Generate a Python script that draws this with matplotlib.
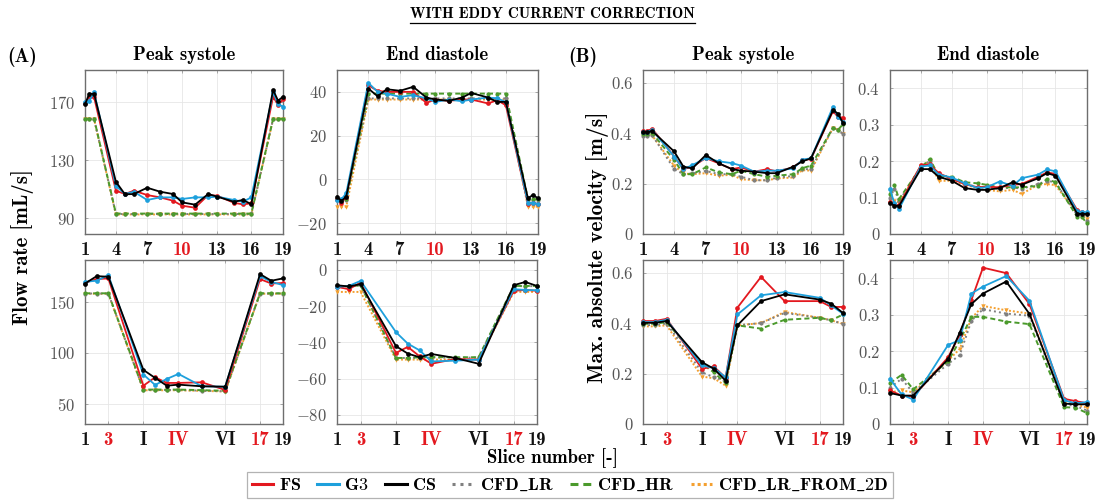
import matplotlib
matplotlib.use("Agg")
import matplotlib.pyplot as plt
from matplotlib.lines import Line2D
from matplotlib.ticker import FixedLocator, FixedFormatter

plt.rcParams['mathtext.fontset'] = 'cm'
plt.rcParams['font.family'] = ['cmr10', 'DejaVu Serif']
plt.rcParams['axes.unicode_minus'] = False

# ---------------------------------------------------------------- positions
# axial position of every slice, normalised to the segment length
z_full = [0.0, 0.022, 0.046, 0.156, 0.202, 0.247, 0.314, 0.379, 0.445, 0.490,
          0.556, 0.622, 0.668, 0.752, 0.797, 0.840, 0.950, 0.975, 1.0]
# slices 1-3, cut planes I-VI, slices 17-19
z_cut = [0.0, 0.059, 0.118, 0.295, 0.354, 0.413, 0.472, 0.590, 0.708, 0.884, 0.941, 1.0]

full_tick_idx = [0, 3, 6, 9, 12, 15, 18]
full_tick_lab = ['1', '4', '7', '10', '13', '16', '19']
full_tick_red = ['10']
cut_tick_idx = [0, 2, 3, 6, 8, 9, 11]
cut_tick_lab = ['1', '3', 'I', 'IV', 'VI', '17', '19']
cut_tick_red = ['3', 'IV', '17']

series_names = ['FS', 'G3', 'CS', 'CFD_LR', 'CFD_HR', 'CFD_LR_FROM_2D']

# ---------------------------------------------------------------- flow rate, peak systole, all slices
q_sys_full_FS = [169.3, 173.0, 173.0, 109.0, 106.7, 109.0, 106.0, 104.4, 102.1, 98.7,
                 97.3, 106.0, 105.5, 100.7, 99.6, 100.3, 173.4, 167.7, 171.5]
q_sys_full_G3 = [169.5, 170.7, 176.4, 112.2, 106.7, 108.3, 102.6, 104.4, 104.4, 103.3,
                 104.4, 104.4, 104.9, 102.6, 101.4, 104.4, 176.4, 168.4, 166.6]
q_sys_full_CS = [168.2, 175.5, 175.3, 115.1, 106.5, 106.7, 111.0, 108.3, 106.7, 101.0,
                 99.4, 106.7, 104.9, 101.4, 102.6, 99.8, 178.0, 170.7, 173.4]
q_sys_full_LR = [158.1, 158.1, 158.1, 93.0, 93.0, 93.0, 93.0, 93.0, 93.0, 93.0,
                 93.0, 93.0, 93.0, 93.0, 93.0, 93.0, 158.1, 158.1, 158.1]
q_sys_full_HR = [158.3, 158.3, 158.3, 93.3, 93.3, 93.3, 93.3, 93.3, 93.3, 93.3,
                 93.3, 93.3, 93.3, 93.3, 93.3, 93.3, 158.3, 158.3, 158.3]
q_sys_full_2D = [157.9, 157.9, 157.9, 92.7, 92.7, 92.7, 92.7, 92.7, 92.7, 92.7,
                 92.7, 92.7, 92.7, 92.7, 92.7, 92.7, 157.9, 157.9, 157.9]

# ---------------------------------------------------------------- flow rate, end diastole, all slices
q_dia_full_FS = [-9.1, -10.6, -7.9, 43.0, 40.5, 40.0, 40.0, 40.0, 35.0, 36.5,
                 35.9, 36.5, 36.5, 34.7, 36.2, 33.9, -11.3, -11.0, -11.2]
q_dia_full_G3 = [-9.4, -9.1, -6.4, 44.1, 40.0, 39.2, 37.7, 38.5, 37.0, 35.4,
                 36.5, 35.7, 36.5, 37.4, 37.0, 35.4, -11.0, -10.6, -11.3]
q_dia_full_CS = [-7.9, -9.9, -7.9, 41.5, 38.0, 41.2, 40.5, 42.3, 37.4, 36.5,
                 35.9, 37.4, 39.5, 37.4, 35.4, 35.4, -8.7, -7.1, -8.7]
q_dia_full_LR = [-9.3, -9.3, -9.3, 37.0, 37.0, 37.0, 37.0, 37.0, 37.0, 37.0,
                 37.0, 37.0, 37.0, 37.0, 37.0, 37.0, -9.3, -9.3, -9.3]
q_dia_full_HR = [-9.1, -9.4, -9.1, 39.2, 39.2, 39.2, 39.2, 39.2, 39.2, 39.2,
                 39.2, 39.2, 39.2, 39.2, 39.2, 39.2, -9.1, -9.1, -9.1]
q_dia_full_2D = [-12.5, -12.5, -12.5, 36.5, 36.5, 36.5, 36.5, 36.5, 36.5, 36.5,
                 36.5, 36.5, 36.5, 36.5, 36.5, 36.5, -12.5, -12.5, -12.5]

# ---------------------------------------------------------------- max velocity, peak systole, all slices
v_sys_full_FS = [0.408, 0.408, 0.417, 0.307, 0.257, 0.267, 0.301, 0.280, 0.257, 0.264,
                 0.247, 0.257, 0.248, 0.264, 0.292, 0.298, 0.487, 0.464, 0.461]
v_sys_full_G3 = [0.404, 0.404, 0.413, 0.307, 0.257, 0.273, 0.301, 0.288, 0.281, 0.271,
                 0.247, 0.251, 0.251, 0.260, 0.295, 0.300, 0.504, 0.464, 0.444]
v_sys_full_CS = [0.404, 0.404, 0.408, 0.327, 0.267, 0.260, 0.313, 0.280, 0.257, 0.251,
                 0.247, 0.241, 0.241, 0.267, 0.288, 0.300, 0.491, 0.477, 0.440]
v_sys_full_LR = [0.390, 0.390, 0.392, 0.257, 0.237, 0.240, 0.250, 0.237, 0.237, 0.227,
                 0.213, 0.213, 0.223, 0.230, 0.257, 0.257, 0.421, 0.413, 0.397]
v_sys_full_HR = [0.395, 0.395, 0.400, 0.293, 0.237, 0.237, 0.264, 0.244, 0.237, 0.251,
                 0.237, 0.227, 0.231, 0.237, 0.261, 0.271, 0.421, 0.413, 0.435]
v_sys_full_2D = [0.387, 0.387, 0.390, 0.270, 0.240, 0.237, 0.241, 0.231, 0.235, 0.217,
                 0.213, 0.213, 0.220, 0.224, 0.253, 0.251, 0.421, 0.413, 0.397]

# ---------------------------------------------------------------- max velocity, end diastole, all slices
v_dia_full_FS = [0.088, 0.081, 0.079, 0.188, 0.191, 0.167, 0.151, 0.137, 0.128, 0.130,
                 0.128, 0.135, 0.137, 0.157, 0.169, 0.165, 0.066, 0.059, 0.057]
v_dia_full_G3 = [0.124, 0.084, 0.069, 0.185, 0.188, 0.163, 0.155, 0.139, 0.126, 0.128,
                 0.144, 0.132, 0.153, 0.163, 0.177, 0.172, 0.062, 0.059, 0.059]
v_dia_full_CS = [0.084, 0.078, 0.077, 0.178, 0.178, 0.157, 0.146, 0.126, 0.121, 0.121,
                 0.126, 0.142, 0.135, 0.153, 0.167, 0.160, 0.056, 0.055, 0.055]
v_dia_full_LR = [0.100, 0.124, 0.090, 0.184, 0.200, 0.156, 0.153, 0.139, 0.128, 0.128,
                 0.124, 0.128, 0.124, 0.137, 0.146, 0.142, 0.052, 0.050, 0.037]
v_dia_full_HR = [0.110, 0.135, 0.096, 0.182, 0.206, 0.160, 0.157, 0.142, 0.139, 0.135,
                 0.128, 0.128, 0.128, 0.132, 0.151, 0.142, 0.047, 0.046, 0.029]
v_dia_full_2D = [0.084, 0.091, 0.086, 0.186, 0.200, 0.146, 0.146, 0.135, 0.126, 0.121,
                 0.117, 0.121, 0.110, 0.135, 0.137, 0.134, 0.056, 0.055, 0.041]

# ---------------------------------------------------------------- flow rate, peak systole, cut planes
q_sys_cut_FS = [168.7, 172.3, 173.0, 68.0, 76.2, 70.7, 70.7, 71.3, 63.8, 172.3, 168.0, 168.5]
q_sys_cut_G3 = [169.7, 170.7, 176.2, 78.9, 68.7, 74.6, 79.5, 67.4, 67.0, 175.2, 169.7, 166.4]
q_sys_cut_CS = [168.0, 175.2, 174.6, 83.4, 75.6, 68.0, 69.0, 67.4, 67.0, 177.2, 170.7, 173.0]
q_sys_cut_LR = [158.2, 158.2, 158.2, 63.8, 63.8, 63.8, 63.8, 63.1, 62.5, 158.2, 158.2, 158.2]
q_sys_cut_HR = [158.4, 158.4, 158.4, 64.2, 64.2, 64.2, 64.2, 63.6, 63.0, 158.4, 158.4, 158.4]
q_sys_cut_2D = [158.0, 158.0, 158.0, 63.5, 63.5, 63.5, 63.5, 62.9, 62.3, 158.0, 158.0, 158.0]

# ---------------------------------------------------------------- flow rate, end diastole, cut planes
q_dia_cut_FS = [-9.4, -10.7, -7.0, -45.8, -42.5, -47.7, -51.8, -49.2, -49.5, -11.6, -11.1, -11.6]
q_dia_cut_G3 = [-9.4, -8.9, -6.1, -34.4, -40.7, -44.4, -50.5, -50.1, -49.5, -10.7, -11.1, -11.3]
q_dia_cut_CS = [-8.5, -9.2, -7.9, -42.1, -46.2, -48.2, -46.4, -48.6, -51.8, -8.5, -6.7, -8.9]
q_dia_cut_LR = [-9.0, -9.0, -8.6, -48.6, -48.6, -48.4, -48.4, -48.4, -48.4, -9.0, -9.0, -9.0]
q_dia_cut_HR = [-8.9, -9.2, -8.5, -48.6, -48.6, -48.2, -48.1, -48.2, -48.2, -8.9, -8.9, -8.9]
q_dia_cut_2D = [-12.2, -12.2, -12.2, -49.5, -49.5, -49.5, -49.5, -49.5, -49.5, -12.2, -12.2, -12.2]

# ---------------------------------------------------------------- max velocity, peak systole, cut planes
v_sys_cut_FS = [0.408, 0.408, 0.417, 0.219, 0.228, 0.183, 0.461, 0.583, 0.487, 0.487, 0.464, 0.464]
v_sys_cut_G3 = [0.404, 0.404, 0.413, 0.232, 0.222, 0.185, 0.434, 0.510, 0.523, 0.500, 0.470, 0.437]
v_sys_cut_CS = [0.401, 0.401, 0.408, 0.245, 0.219, 0.172, 0.391, 0.487, 0.514, 0.493, 0.477, 0.440]
v_sys_cut_LR = [0.392, 0.392, 0.398, 0.205, 0.185, 0.170, 0.391, 0.400, 0.440, 0.421, 0.411, 0.397]
v_sys_cut_HR = [0.397, 0.397, 0.404, 0.238, 0.205, 0.162, 0.391, 0.378, 0.413, 0.421, 0.411, 0.434]
v_sys_cut_2D = [0.387, 0.387, 0.391, 0.188, 0.181, 0.152, 0.391, 0.400, 0.444, 0.421, 0.411, 0.397]

# ---------------------------------------------------------------- max velocity, end diastole, cut planes
v_dia_cut_FS = [0.092, 0.078, 0.075, 0.183, 0.245, 0.340, 0.429, 0.414, 0.329, 0.069, 0.063, 0.057]
v_dia_cut_G3 = [0.124, 0.081, 0.067, 0.217, 0.230, 0.358, 0.377, 0.406, 0.338, 0.065, 0.057, 0.060]
v_dia_cut_CS = [0.085, 0.078, 0.078, 0.178, 0.251, 0.329, 0.358, 0.391, 0.302, 0.056, 0.054, 0.054]
v_dia_cut_LR = [0.100, 0.124, 0.085, 0.165, 0.189, 0.283, 0.315, 0.303, 0.297, 0.054, 0.050, 0.037]
v_dia_cut_HR = [0.112, 0.135, 0.095, 0.172, 0.229, 0.294, 0.294, 0.281, 0.274, 0.046, 0.045, 0.030]
v_dia_cut_2D = [0.087, 0.092, 0.087, 0.174, 0.206, 0.290, 0.324, 0.312, 0.303, 0.060, 0.054, 0.045]

# ---------------------------------------------------------------- styling
styles = {
    'FS':             dict(color='#e3181f', ls='-', marker='o', lw=1.3, ms=3.4, zorder=5),
    'G3':             dict(color='#1ea0dc', ls='-', marker='o', lw=1.3, ms=3.4, zorder=5),
    'CS':             dict(color='#000000', ls='-', marker='o', lw=1.3, ms=3.4, zorder=6),
    'CFD_LR':         dict(color='#808080', ls=(0, (1, 1.6)), marker='o', lw=1.4, ms=3.0, zorder=3),
    'CFD_HR':         dict(color='#4b9a2c', ls=(0, (2.6, 1.6)), marker='o', lw=1.4, ms=3.0, zorder=4),
    'CFD_LR_FROM_2D': dict(color='#f4a030', ls=(0, (1, 1)), marker='v', lw=1.4, ms=3.2, zorder=3),
}
draw_order = ['CFD_LR_FROM_2D', 'CFD_LR', 'CFD_HR', 'FS', 'G3', 'CS']

W, H = 1105, 500
fig = plt.figure(figsize=(W / 100, H / 100), dpi=100)
bold = ['cmb10', 'DejaVu Serif']


def add_axes_px(left, top, right, bottom):
    return fig.add_axes([left / W, 1 - bottom / H, (right - left) / W, (bottom - top) / H])


def fmt(v):
    if abs(v) < 1e-12:
        return '$0$'
    if float(v).is_integer():
        return '$%d$' % v
    return '$%g$' % v


def draw_panel(ax, z, data, ylim, yticks, tick_idx, tick_lab, tick_red, title=None):
    for name in draw_order:
        st = styles[name]
        ax.plot(z, data[name], color=st['color'], linestyle=st['ls'], marker=st['marker'],
                lw=st['lw'], markersize=st['ms'], markeredgewidth=0, zorder=st['zorder'],
                clip_on=False)
    ax.set_xlim(0, 1)
    ax.set_ylim(*ylim)
    ax.yaxis.set_major_locator(FixedLocator(yticks))
    ax.yaxis.set_major_formatter(FixedFormatter([fmt(v) for v in yticks]))
    ax.xaxis.set_major_locator(FixedLocator([z[i] for i in tick_idx]))
    ax.xaxis.set_major_formatter(FixedFormatter(tick_lab))
    ax.grid(True, color='#e6e6e6', lw=0.6, zorder=0)
    ax.set_axisbelow(True)
    for sp in ax.spines.values():
        sp.set_color('#6e6e6e')
        sp.set_linewidth(1.0)
    ax.tick_params(axis='both', which='both', direction='in', length=2.5, color='#9a9a9a',
                   width=0.6, top=True, right=True)
    ax.tick_params(axis='y', labelsize=12, labelcolor='#555555', pad=7)
    ax.tick_params(axis='x', labelsize=13.5, pad=5)
    for lab in ax.get_xticklabels():
        lab.set_fontfamily(bold)
        lab.set_color('#e3181f' if lab.get_text() in tick_red else '#111111')
    if title:
        ax.set_title(title, fontsize=13.5, family=bold, pad=7)


def pick(prefix):
    g = globals()
    return {'FS': g[prefix + 'FS'], 'G3': g[prefix + 'G3'], 'CS': g[prefix + 'CS'],
            'CFD_LR': g[prefix + 'LR'], 'CFD_HR': g[prefix + 'HR'],
            'CFD_LR_FROM_2D': g[prefix + '2D']}


panels = [
    # (left, right, top, bottom, z, data, ylim, yticks, row, title)
    (85, 283, 70, 234, z_full, pick('q_sys_full_'), (79.3, 191.7), [90, 130, 170], 'full', 'Peak systole'),
    (337, 538, 70, 234, z_full, pick('q_dia_full_'), (-25, 50), [-20, 0, 20, 40], 'full', 'End diastole'),
    (643, 843, 70, 234, z_full, pick('v_sys_full_'), (0, 0.65), [0, 0.2, 0.4, 0.6], 'full', 'Peak systole'),
    (890, 1087, 70, 234, z_full, pick('v_dia_full_'), (0, 0.45), [0, 0.1, 0.2, 0.3, 0.4], 'full', 'End diastole'),
    (85, 283, 260, 424, z_cut, pick('q_sys_cut_'), (30.5, 191), [50, 100, 150], 'cut', None),
    (337, 537, 260, 424, z_cut, pick('q_dia_cut_'), (-85, 5.4), [-80, -60, -40, -20, 0], 'cut', None),
    (643, 843, 260, 424, z_cut, pick('v_sys_cut_'), (0, 0.65), [0, 0.2, 0.4, 0.6], 'cut', None),
    (890, 1087, 260, 424, z_cut, pick('v_dia_cut_'), (0, 0.45), [0, 0.1, 0.2, 0.3, 0.4], 'cut', None),
]

for left, right, top, bottom, z, data, ylim, yticks, row, title in panels:
    ax = add_axes_px(left, top, right, bottom)
    if row == 'full':
        draw_panel(ax, z, data, ylim, yticks, full_tick_idx, full_tick_lab, full_tick_red, title)
    else:
        draw_panel(ax, z, data, ylim, yticks, cut_tick_idx, cut_tick_lab, cut_tick_red, title)

# panel letters and axis labels
fig.text(22 / W, 1 - 57 / H, '(A)', fontsize=14, family=bold, ha='center', va='center')
fig.text(583 / W, 1 - 57 / H, '(B)', fontsize=14, family=bold, ha='center', va='center')
fig.text(23 / W, 1 - 247 / H, 'Flow rate [mL/s]', fontsize=15, family=bold,
         rotation=90, ha='center', va='center')
fig.text(598 / W, 1 - 247 / H, 'Max. absolute velocity [m/s]', fontsize=15.5, family=bold,
         rotation=90, ha='center', va='center')
fig.text(552 / W, 1 - 458 / H, 'Slice number [-]', fontsize=13.5, family=bold,
         ha='center', va='center')

# underlined heading
head = fig.text(552 / W, 1 - 14 / H, 'WITH EDDY CURRENT CORRECTION', fontsize=10.8,
                family=bold, ha='center', va='center')
fig.canvas.draw()
bb = head.get_window_extent()
y_ul = bb.y0 - 2
fig.add_artist(Line2D([bb.x0 / W, bb.x1 / W], [y_ul / H, y_ul / H], color='black', lw=0.9,
                      transform=fig.transFigure))

# legend
handles = []
for name in series_names:
    st = styles[name]
    handles.append(Line2D([], [], color=st['color'], linestyle=st['ls'], lw=2.2))
labels = [r'$\mathbf{' + n.replace('_', r'\_') + '}$' for n in series_names]
leg = fig.legend(handles, labels, loc='center', bbox_to_anchor=(570 / W, 1 - 485 / H),
                 ncol=6, frameon=True, fancybox=False, edgecolor='#a0a0a0', fontsize=13,
                 handlelength=1.2, handletextpad=0.3, columnspacing=0.9,
                 borderpad=0.25, borderaxespad=0)
leg.get_frame().set_linewidth(0.9)

fig.savefig('out.png', dpi=100)
